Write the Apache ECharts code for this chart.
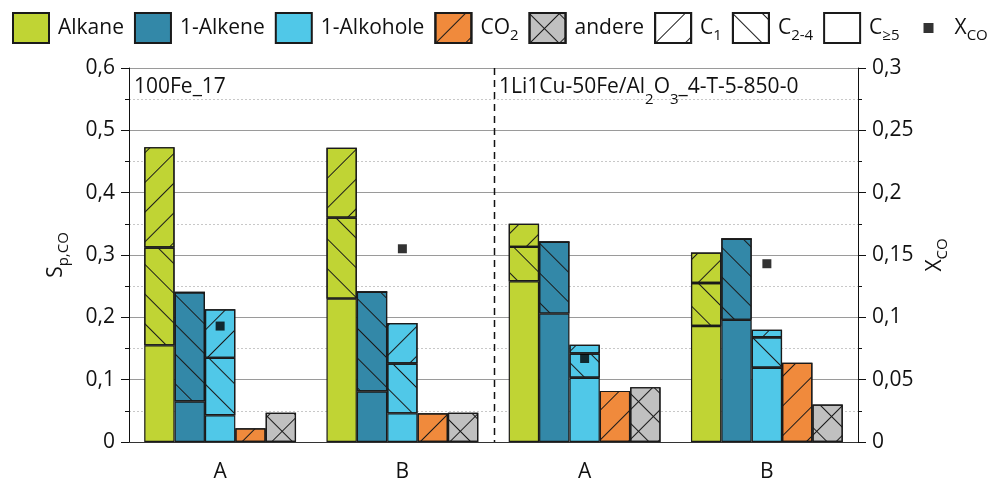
<!DOCTYPE html>
<html><head><meta charset="utf-8">
<script src="https://cdn.jsdelivr.net/npm/echarts@6/dist/echarts.min.js"></script>
<style>html,body{margin:0;padding:0;background:#fff}#c{width:995px;height:483px}</style>
</head><body><div id="c"></div>
<script>
// ---- data ----
const categories = ['A', 'B', 'A', 'B'];
const sampleTitles = ['{n|100Fe_17}', '{n|1Li1Cu-50Fe/Al}{s|2}{n|O}{s|3}{n|_4-T-5-850-0}'];
const alkaneC5  = [0.155, 0.230, 0.258, 0.186];
const alkaneC24 = [0.157, 0.130, 0.055, 0.069];
const alkaneC1  = [0.161, 0.112, 0.037, 0.049];
const alkeneC5  = [0.065, 0.081, 0.206, 0.196];
const alkeneC24 = [0.175, 0.160, 0.115, 0.130];
const alkeneC1  = [0, 0, 0, 0];
const alkoholC5  = [0.043, 0.046, 0.103, 0.119];
const alkoholC24 = [0.092, 0.080, 0.039, 0.049];
const alkoholC1  = [0.078, 0.065, 0.014, 0.012];
const co2    = [0.022, 0.046, 0.082, 0.127];
const andere = [0.047, 0.047, 0.088, 0.060];
const xco    = [0.093, 0.155, 0.067, 0.143];
const leftTickLabels  = ['0', '0,1', '0,2', '0,3', '0,4', '0,5', '0,6'];
const rightTickLabels = ['0', '0,05', '0,1', '0,15', '0,2', '0,25', '0,3'];

// ---- styles ----
const FONT = 'Open Sans';
const COL = { alkane: '#C0D434', alkene: '#3388A8', alkohol: '#50C8E8', co2: '#F08A3C', andere: '#C0C0C0' };
const BORDER = '#1a1a1a';
const slash = { symbol: 'rect', symbolSize: 1, dashArrayX: [[21, 0]], dashArrayY: [1, 20], rotation: -Math.PI / 4, color: '#1a1a1a' };
const bslash = { symbol: 'rect', symbolSize: 1, dashArrayX: [[21, 0]], dashArrayY: [1, 20], rotation: Math.PI / 4, color: '#1a1a1a' };
const cross = { symbol: 'rect', symbolSize: 1, dashArrayX: [[21, 0], [1, 20]], dashArrayY: [1, 0, 20, 0], rotation: Math.PI / 4, color: '#1a1a1a' };

function bar(name, stack, data, color, decal) {
  const s = {
    type: 'bar', name: name, stack: stack, data: data,
    barGap: '0%', barCategoryGap: '16.7%',
    itemStyle: { color: color, borderColor: BORDER, borderWidth: 1.2 }
  };
  if (decal) s.itemStyle.decal = decal;
  return s;
}

const richLegend = {
  f: { fontFamily: FONT, fontSize: 21, lineHeight: 30, color: '#111', padding: [0, 0, 0, 4] },
  s: { fontFamily: FONT, fontSize: 15, lineHeight: 10, verticalAlign: 'bottom', color: '#111' }
};
const legendText = {
  'Alkane': '{f|Alkane}', '1-Alkene': '{f|1-Alkene}', '1-Alkohole': '{f|1-Alkohole}',
  'CO2': '{f|CO}{s|2}', 'andere': '{f|andere}', 'C1': '{f|C}{s|1}', 'C2-4': '{f|C}{s|2-4}',
  'C≥5': '{f|C}{s|≥5}', 'XCO': '{f|X}{s|CO}'
};
const subRich = {
  n: { fontFamily: FONT, fontSize: 21, lineHeight: 30, color: '#111' },
  s: { fontFamily: FONT, fontSize: 15, lineHeight: 10, verticalAlign: 'bottom', color: '#111' }
};

const series = [
  bar('Alkane', 'alkane', alkaneC5, COL.alkane),
  bar('Alkane C2-4', 'alkane', alkaneC24, COL.alkane, bslash),
  bar('Alkane C1', 'alkane', alkaneC1, COL.alkane, slash),
  bar('1-Alkene', 'alkene', alkeneC5, COL.alkene),
  bar('1-Alkene C2-4', 'alkene', alkeneC24, COL.alkene, bslash),
  bar('1-Alkene C1', 'alkene', alkeneC1, COL.alkene, slash),
  bar('1-Alkohole', 'alkohol', alkoholC5, COL.alkohol),
  bar('1-Alkohole C2-4', 'alkohol', alkoholC24, COL.alkohol, bslash),
  bar('1-Alkohole C1', 'alkohol', alkoholC1, COL.alkohol, slash),
  bar('CO2', 'co2', co2, COL.co2, slash),
  bar('andere', 'andere', andere, COL.andere, cross),
  // legend-only entries (no values) sharing an existing stack
  bar('C1', 'andere', [], '#ffffff', slash),
  bar('C2-4', 'andere', [], '#ffffff', bslash),
  bar('C≥5', 'andere', [], '#ffffff'),
  {
    type: 'scatter', name: 'XCO', yAxisIndex: 1, data: xco, symbol: 'rect', symbolSize: 9,
    itemStyle: { color: '#000' }, z: 10
  }
];

const tickFont = { fontFamily: FONT, fontSize: 21, color: '#111' };

const option = {
  animation: false,
  backgroundColor: '#fff',
  grid: { left: 129, right: 137, top: 68, bottom: 40 },
  title: sampleTitles.map((t, i) => ({
    text: t, left: i === 0 ? 134 : 499, top: 67, padding: 0,
    textStyle: {
      fontFamily: FONT, fontSize: 21, fontWeight: 'normal', color: '#111',
      rich: {
        n: { fontFamily: FONT, fontSize: 21, lineHeight: 40, color: '#111' },
        s: { fontFamily: FONT, fontSize: 15, lineHeight: 8, verticalAlign: 'bottom', color: '#111' }
      }
    }
  })),
  legend: {
    left: 12, top: 12, itemWidth: 36, itemHeight: 30, itemGap: 10, padding: 0,
    selectedMode: false,
    data: [
      { name: 'Alkane', icon: 'rect' }, { name: '1-Alkene', icon: 'rect' },
      { name: '1-Alkohole', icon: 'rect' }, { name: 'CO2', icon: 'rect' },
      { name: 'andere', icon: 'rect' }, { name: 'C1', icon: 'rect' },
      { name: 'C2-4', icon: 'rect' }, { name: 'C≥5', icon: 'rect' },
      { name: 'XCO', icon: 'path://M0,0M36,30M14,10L24,10L24,20L14,20Z' }],
    formatter: name => legendText[name] || name,
    textStyle: { fontFamily: FONT, fontSize: 21, color: '#111', rich: richLegend }
  },
  xAxis: [{
    type: 'category', data: categories, boundaryGap: true,
    axisLine: { lineStyle: { color: '#111', width: 1 } },
    axisTick: { alignWithLabel: true, length: 8, lineStyle: { color: '#111' } },
    axisLabel: { margin: 20, fontFamily: FONT, fontSize: 21, color: '#111' },
    splitLine: { show: false }
  }, {
    type: 'category', data: categories, position: 'top',
    axisLine: { show: true, lineStyle: { color: '#333', width: 1 } },
    axisTick: { show: false }, axisLabel: { show: false }, splitLine: { show: false }
  }],
  yAxis: [{
    type: 'value', min: 0, max: 0.6, interval: 0.1, position: 'left',
    name: '{n|S}{s|p,CO}', nameLocation: 'middle', nameRotate: 90, nameGap: 58,
    nameTextStyle: { rich: subRich },
    axisLine: { show: true, lineStyle: { color: '#111' } },
    axisTick: { show: true, length: 8, lineStyle: { color: '#111' } },
    minorTick: { show: true, splitNumber: 2, length: 4, lineStyle: { color: '#111' } },
    axisLabel: Object.assign({ margin: 14, formatter: v => leftTickLabels[Math.round(v * 10)] }, tickFont),
    splitLine: { show: true, lineStyle: { color: '#9a9a9a', width: 1.2 } },
    minorSplitLine: { show: true, lineStyle: { color: '#c8c8c8', type: [2, 2], width: 1 } }
  }, {
    type: 'value', min: 0, max: 0.3, interval: 0.05, position: 'right',
    name: '{n|X}{s|CO}', nameLocation: 'middle', nameRotate: 90, nameGap: 58,
    nameTextStyle: { rich: subRich },
    axisLine: { show: true, lineStyle: { color: '#111' } },
    axisTick: { show: true, length: 8, lineStyle: { color: '#111' } },
    minorTick: { show: true, splitNumber: 2, length: 4, lineStyle: { color: '#111' } },
    axisLabel: Object.assign({ margin: 14, formatter: v => rightTickLabels[Math.round(v * 20)] }, tickFont),
    splitLine: { show: false }
  }],
  series: series
};

const chart = echarts.init(document.getElementById('c'), null, { renderer: 'canvas' });
chart.setOption(option);

// dashed separator between the two samples, placed via the axis scales
const x1 = chart.convertToPixel({ xAxisIndex: 0 }, 1);
const x2 = chart.convertToPixel({ xAxisIndex: 0 }, 2);
const yTop = chart.convertToPixel({ yAxisIndex: 0 }, 0.6);
const yBot = chart.convertToPixel({ yAxisIndex: 0 }, 0);
const xm = Math.round((x1 + x2) / 2) + 0.5;
chart.setOption({
  graphic: [{
    type: 'line', shape: { x1: xm, y1: yTop, x2: xm, y2: yBot }, z: 5,
    style: { stroke: '#111', lineWidth: 1.5, lineDash: [7, 5] }
  }]
});
</script>
</body></html>
